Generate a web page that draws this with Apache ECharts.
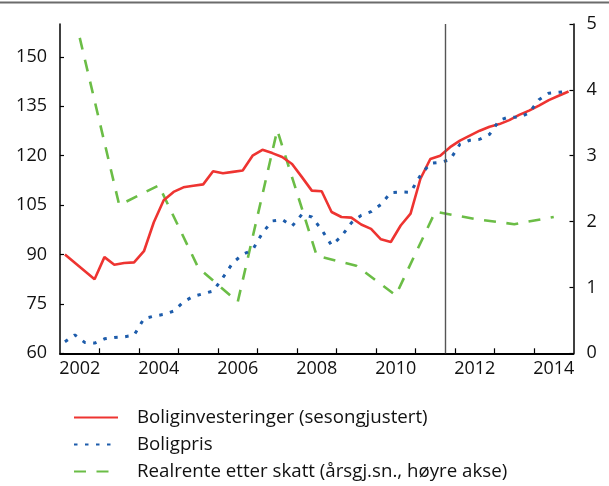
<!DOCTYPE html>
<html>
<head>
<meta charset="utf-8">
<script src="https://cdn.jsdelivr.net/npm/echarts@6/dist/echarts.min.js"></script>
<style>
html,body{margin:0;padding:0;background:#fff;}
#chart{width:609px;height:486px;}
</style>
</head>
<body>
<div id="chart"></div>
<script>
// ---- data ----
const years = [2002, 2003, 2004, 2005, 2006, 2007, 2008, 2009, 2010, 2011, 2012, 2013, 2014];
// Quarterly, 2002K1 .. 2014K4
const boliginvesteringer = [
  90.0, 87.5, 85.0, 82.5,
  89.2, 86.9, 87.4, 87.6,
  91.0, 99.8, 106.5, 109.0,
  110.4, 110.9, 111.3, 115.3,
  114.7, 115.1, 115.5, 120.0,
  121.8, 120.8, 119.6, 117.5,
  113.5, 109.4, 109.2, 102.9,
  101.4, 101.2, 99.1, 97.8,
  94.6, 93.8, 98.8, 102.4,
  113.0, 119.0, 120.0, 122.6,
  124.6, 126.1, 127.6, 128.8,
  129.6, 130.8, 132.4, 133.7,
  135.2, 136.9, 138.2, 139.5
];
const boligpris = [
  63.5, 65.6, 63.3, 63.1,
  64.4, 64.8, 65.0, 65.5,
  70.5, 71.3, 71.8, 72.8,
  75.6, 77.3, 78.1, 78.9,
  83.0, 87.5, 90.0, 91.4,
  96.6, 100.2, 100.6, 98.6,
  102.2, 101.4, 97.5, 92.8,
  95.5, 99.6, 101.9, 103.0,
  105.2, 108.8, 109.0, 108.9,
  114.0, 117.7, 118.0, 118.8,
  123.5, 124.7, 125.0, 126.5,
  130.8, 131.8, 131.6, 133.0,
  137.0, 139.0, 139.3, 139.5
];
// Annual averages, right axis
const realrente = [4.79, 2.25, 2.55, 1.30, 0.78, 3.39, 1.48, 1.33, 0.88, 2.15, 2.04, 1.96, 2.07];
const leftTicks = [60, 75, 90, 105, 120, 135, 150];
const rightTicks = [0, 1, 2, 3, 4, 5];
const xLabelYears = [2002, 2004, 2006, 2008, 2010, 2012, 2014];
const splitYear = 2011.75;
const seriesNames = ['Boliginvesteringer (sesongjustert)', 'Boligpris', 'Realrente etter skatt (årsgj.sn., høyre akse)'];

// ---- build ----
const quarterPos = [];
years.forEach(y => { for (let q = 1; q <= 4; q++) quarterPos.push(y + (q - 0.5) / 4); });
const redData = boliginvesteringer.map((v, i) => [quarterPos[i], v]);
const blueData = boligpris.map((v, i) => [quarterPos[i], v]);
const greenData = realrente.map((v, i) => [years[i] + 0.5, v]);

const FONT = 'Open Sans';
const chart = echarts.init(document.getElementById('chart'), null, {renderer: 'canvas'});
const axisLine = {show: true, lineStyle: {color: '#000', width: 1.5}};
const legendBase = {
  orient: 'vertical', left: 73, padding: 0, itemWidth: 44, itemHeight: 20,
  itemStyle: {opacity: 0},
  textStyle: {fontFamily: FONT, fontSize: 18.7, color: '#111', lineHeight: 20, padding: [3, 0, 0, 14]}
};
chart.setOption({
  animation: false,
  backgroundColor: '#fff',
  grid: {left: 60, right: 35.5, top: 24, bottom: 132.7, containLabel: false},
  graphic: [{type: 'rect', shape: {x: 0, y: 1.5, width: 609, height: 2}, style: {fill: '#6b6b6b'}, silent: true}],
  legend: [
    Object.assign({}, legendBase, {top: 406, data: [seriesNames[0]]}),
    Object.assign({}, legendBase, {top: 433, data: [seriesNames[1]]}),
    Object.assign({}, legendBase, {top: 460, data: [seriesNames[2]]})
  ],
  xAxis: {
    type: 'value', min: 2002, max: 2015,
    axisLine: {show: true, onZero: false, lineStyle: {color: '#000', width: 2}},
    splitLine: {show: false},
    axisTick: {show: true, inside: true, length: 5, lineStyle: {color: '#000', width: 1.2},
      customValues: years.slice(1)},
    axisLabel: {fontFamily: FONT, fontSize: 18, color: '#111', margin: 7,
      customValues: xLabelYears.map(y => y + 0.5),
      formatter: v => String(Math.floor(v))}
  },
  yAxis: [
    {
      type: 'value', min: 60, max: 160, interval: 15, position: 'left',
      axisLine: axisLine, splitLine: {show: false},
      axisTick: {show: true, inside: true, length: 4, lineStyle: {color: '#000', width: 1.2}, customValues: leftTicks},
      axisLabel: {fontFamily: FONT, fontSize: 18, color: '#111', margin: 13, customValues: leftTicks}
    },
    {
      type: 'value', min: 0, max: 5, interval: 1, position: 'right',
      axisLine: axisLine, splitLine: {show: false},
      axisTick: {show: true, inside: true, length: 4, lineStyle: {color: '#000', width: 1.2}, customValues: rightTicks},
      axisLabel: {fontFamily: FONT, fontSize: 18, color: '#111', margin: 13, customValues: rightTicks}
    }
  ],
  series: [
    {
      name: seriesNames[0], type: 'line', data: redData, yAxisIndex: 0,
      symbol: 'none', color: '#ee3431',
      lineStyle: {color: '#ee3431', width: 2.6},
      markLine: {silent: true, symbol: 'none', label: {show: false},
        lineStyle: {color: '#555', width: 1.4, type: 'solid'},
        data: [{xAxis: splitYear}]},
      z: 3
    },
    {
      name: seriesNames[1], type: 'line', data: blueData, yAxisIndex: 0,
      symbol: 'none', color: '#1d5cab',
      lineStyle: {color: '#1d5cab', width: 3, type: [3.5, 7.5]},
      z: 4
    },
    {
      name: seriesNames[2], type: 'line', data: greenData, yAxisIndex: 1,
      symbol: 'none', color: '#6bbd46',
      lineStyle: {color: '#6bbd46', width: 2.6, type: [12, 10.5]},
      z: 2
    }
  ]
});
</script>
</body>
</html>
